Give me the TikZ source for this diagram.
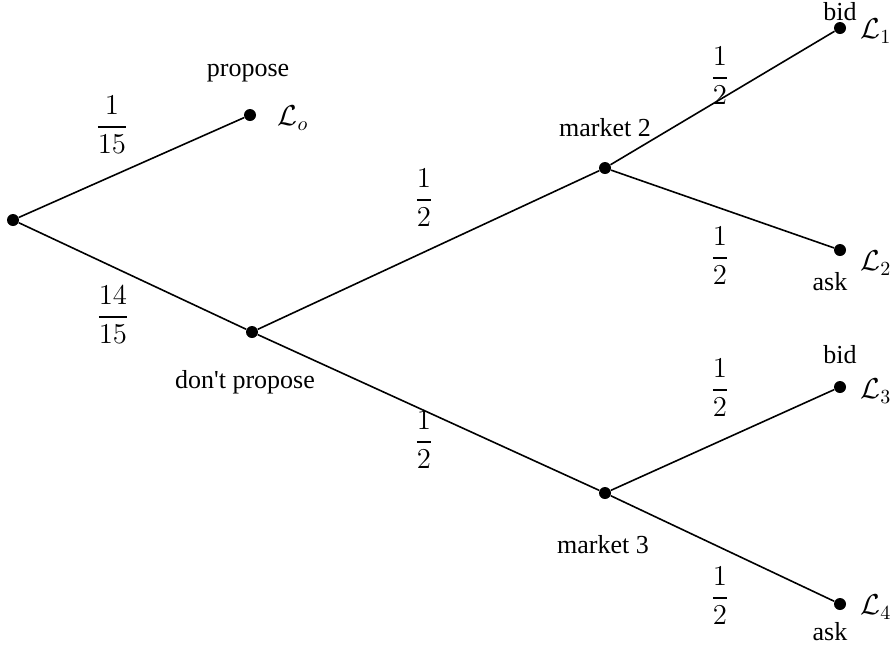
\documentclass[tikz,border=0pt]{standalone}
\usepackage{amsmath}
\usepackage{fontspec}
\setmainfont{Liberation Serif}
\usetikzlibrary{positioning}

\begin{document}
\begin{tikzpicture}[
    x=0.5pt, y=-0.5pt,
    dot/.style={circle, fill, inner sep=0pt, minimum size=6pt},
    txt/.style={inner sep=1pt, font=\fontsize{13}{15}\selectfont},
    lot/.style={inner sep=1pt, font=\Large},
    prob/.style={inner sep=1pt, font=\Large},
    branch/.style={line width=0.8pt}
  ]
    \useasboundingbox (0,0) rectangle (895,645);
    % nodes of the tree
    \node[dot] (root) at (13,220) {};
    \node[dot] (prop) at (250,115) {};
    \node[dot] (noprop) at (252,332) {};
    \node[dot] (mtwo) at (605,168) {};
    \node[dot] (mthree) at (605,493) {};
    \node[dot] (lone) at (840,28) {};
    \node[dot] (ltwo) at (840,250) {};
    \node[dot] (lthree) at (840,387) {};
    \node[dot] (lfour) at (840,604) {};
    % branches
    \draw[branch] (root) -- (prop);
    \draw[branch] (root) -- (noprop);
    \draw[branch] (noprop) -- (mtwo);
    \draw[branch] (noprop) -- (mthree);
    \draw[branch] (mtwo) -- (lone);
    \draw[branch] (mtwo) -- (ltwo);
    \draw[branch] (mthree) -- (lthree);
    \draw[branch] (mthree) -- (lfour);
    % names
    \node[txt] (tprop) at (248,73) {propose};
    \node[txt] (tnoprop) at (245,382) {don\textquotesingle t propose};
    \node[txt] (tmtwo) at (605,128) {market 2};
    \node[txt] (tmthree) at (603,545) {market 3};
    \node[txt] (tbidone) at (840,12) {bid};
    \node[txt] (taskone) at (830,282) {ask};
    \node[txt] (tbidtwo) at (840,355) {bid};
    \node[txt] (tasktwo) at (830,632) {ask};
    % lotteries
    \node[lot] (vo) at (293,118) {$\mathcal{L}_o$};
    \node[lot] (vone) at (876,31) {$\mathcal{L}_1$};
    \node[lot] (vtwo) at (876,263) {$\mathcal{L}_2$};
    \node[lot] (vthree) at (876,391) {$\mathcal{L}_3$};
    \node[lot] (vfour) at (876,607) {$\mathcal{L}_4$};
    % probabilities
    \node[prob] (pa) at (112,125) {$\dfrac{1}{15}$};
    \node[prob] (pb) at (113,315) {$\dfrac{14}{15}$};
    \node[prob] (pc) at (424,198) {$\dfrac{1}{2}$};
    \node[prob] (pd) at (424,440) {$\dfrac{1}{2}$};
    \node[prob] (pe) at (720,76) {$\dfrac{1}{2}$};
    \node[prob] (pf) at (720,256) {$\dfrac{1}{2}$};
    \node[prob] (pg) at (720,388) {$\dfrac{1}{2}$};
    \node[prob] (ph) at (720,596) {$\dfrac{1}{2}$};
  \end{tikzpicture}
\end{document}
